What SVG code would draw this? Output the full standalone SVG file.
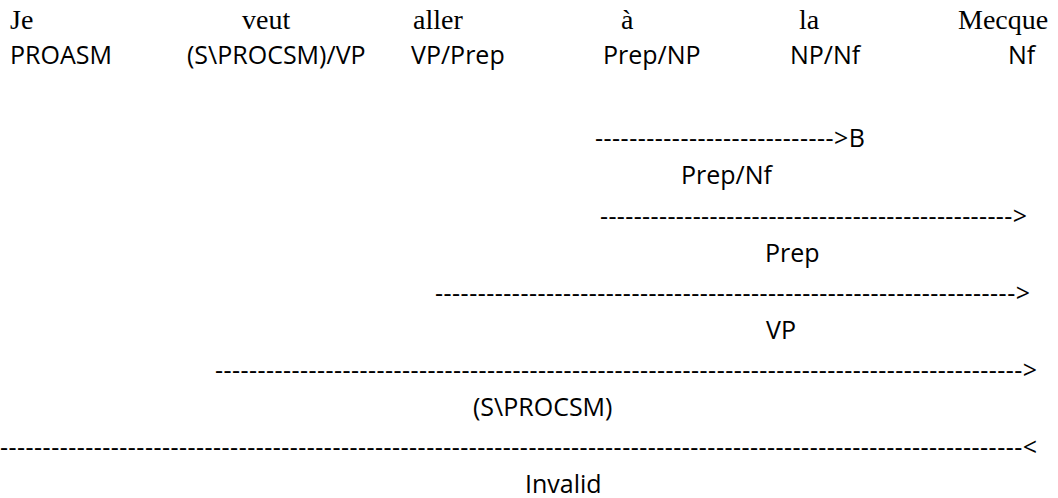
<svg xmlns="http://www.w3.org/2000/svg" width="1058" height="498" viewBox="0 0 1058 498">
<style>
.w{font-family:"Liberation Serif","Times New Roman",serif;font-size:28px;fill:#000}
.c{font-family:"Open Sans","Liberation Sans",sans-serif;font-size:25px;fill:#000}
.d{font-family:"Open Sans","Liberation Sans",sans-serif;font-size:25px;fill:#000}
</style>
<rect width="1058" height="498" fill="#fff"/>
<g id="words">
<text class="w" x="10" y="29">Je</text>
<text class="w" x="242" y="29">veut</text>
<text class="w" x="413" y="29">aller</text>
<text class="w" x="621" y="29">à</text>
<text class="w" x="799" y="29">la</text>
<text class="w" x="958" y="29">Mecque</text>
</g>
<g id="categories">
<text class="c" x="10" y="64">PROASM</text>
<text class="c" x="187" y="64">(S\PROCSM)/VP</text>
<text class="c" x="411" y="64">VP/Prep</text>
<text class="c" x="603" y="64">Prep/NP</text>
<text class="c" x="790" y="64">NP/Nf</text>
<text class="c" x="1008" y="64">Nf</text>
</g>
<g id="results">
<text id="r1" class="c" x="681" y="184">Prep/Nf</text>
<text id="r2" class="c" x="765" y="262">Prep</text>
<text id="r3" class="c" x="766" y="339">VP</text>
<text id="r4" class="c" x="473" y="416">(S\PROCSM)</text>
<text id="r5" class="c" x="525" y="493">Invalid</text>
</g>
<g id="connectors">
<text class="d" x="595" y="147" textLength="270" lengthAdjust="spacing">----------------------------&gt;B</text>
<text class="d" x="600" y="225" textLength="427" lengthAdjust="spacing">-------------------------------------------------&gt;</text>
<text class="d" x="435" y="302" textLength="595" lengthAdjust="spacing">--------------------------------------------------------------------&gt;</text>
<text class="d" x="215" y="379" textLength="822" lengthAdjust="spacing">-----------------------------------------------------------------------------------------------&gt;</text>
<text class="d" x="0" y="456" textLength="1037" lengthAdjust="spacing">------------------------------------------------------------------------------------------------------------------------&lt;</text>
</g>
</svg>
